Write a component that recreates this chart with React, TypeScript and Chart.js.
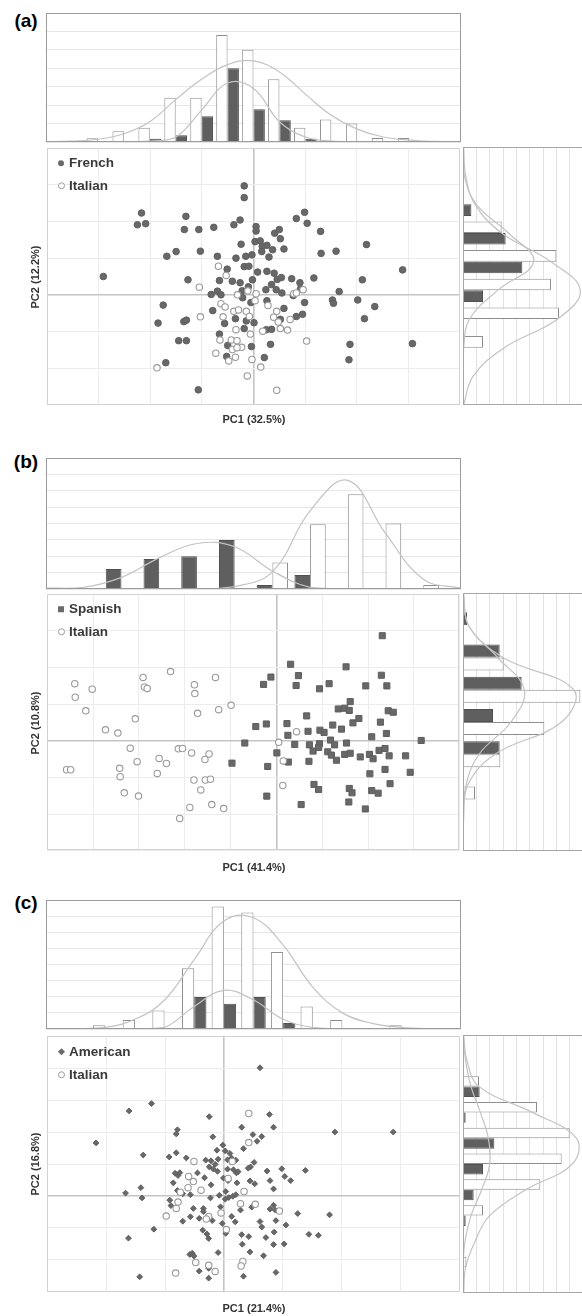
import React, { useEffect, useRef } from 'react';
import { Chart, registerables } from 'chart.js';
Chart.register(...registerables);

type Pt = [number, number];
const FONT = '"Liberation Sans", Arial, Helvetica, sans-serif';

// ---------- Panel (a): French vs Italian ----------
const frenchA: Pt[] = [[-0.18,2.97],[-0.18,2.65],[-2.17,2.23],[-2.25,1.91],[-2.09,1.94],[-1.31,2.14],[-1.34,1.78],[-1.06,1.78],[-0.77,1.84],[-0.38,1.91],[-0.26,2.04],[0.05,1.86],[0.05,1.74],[0.41,1.68],[0.5,1.78],[0.52,1.53],[0.83,2.08],[0.99,2.25],[1.04,1.95],[1.3,1.73],[-0.24,1.38],[0.03,1.45],[0.13,1.47],[0.17,1.32],[0.26,1.35],[0.37,1.23],[0.59,1.25],[0.16,1.18],[-1.68,1.05],[-1.5,1.18],[-1.03,1.19],[-0.7,1.05],[-0.34,1.0],[-0.15,1.05],[-0.03,1.09],[0.3,1.03],[1.31,1.13],[1.6,1.19],[2.19,1.37],[2.89,0.68],[-2.91,0.5],[-1.27,0.41],[-0.51,0.7],[-0.18,0.77],[-0.09,0.78],[0.08,0.62],[0.26,0.64],[0.4,0.59],[-0.66,0.39],[-0.41,0.37],[-0.26,0.33],[-0.02,0.41],[0.46,0.42],[0.54,0.47],[0.74,0.44],[0.9,0.33],[1.17,0.46],[0.35,0.28],[0.24,0.14],[0.44,0.14],[0.55,0.05],[0.77,-0.02],[0.91,0.16],[2.11,0.41],[1.66,0.09],[-0.82,0.01],[-0.7,0.1],[-0.63,0.0],[-0.22,0.11],[-0.1,0.22],[-0.21,-0.08],[-0.05,-0.21],[0.26,-0.16],[0.99,-0.21],[1.53,-0.14],[1.55,-0.23],[2.02,-0.14],[2.35,-0.32],[-1.75,-0.28],[-0.79,-0.43],[0.59,-0.37],[-1.85,-0.77],[-1.35,-0.73],[-1.3,-0.69],[-0.35,-0.65],[-0.14,-0.71],[0.01,-0.76],[0.52,-0.67],[0.83,-0.59],[0.95,-0.53],[2.15,-0.65],[-0.56,-0.78],[-0.18,-0.92],[0.25,-0.95],[0.35,-0.94],[-0.66,-1.07],[-1.45,-1.25],[-1.3,-1.25],[-0.5,-1.38],[-0.04,-1.41],[0.33,-1.35],[1.87,-1.35],[3.08,-1.33],[-1.7,-1.85],[-0.52,-1.68],[0.21,-1.71],[1.85,-1.77],[-1.07,-2.59]];
const italianA: Pt[] = [[-0.68,0.78],[-0.53,0.53],[-1.05,0.21],[-0.31,0.0],[-0.11,0.11],[0.05,0.03],[0.03,-0.16],[-0.63,-0.24],[-0.55,-0.33],[0.28,-0.29],[-0.38,-0.45],[-0.29,-0.41],[-0.14,-0.45],[-1.03,-0.6],[-0.59,-0.6],[-0.08,-0.59],[0.45,-0.45],[0.39,-0.61],[0.71,-0.67],[-0.34,-0.95],[-0.06,-1.07],[0.18,-0.99],[0.52,-0.92],[0.66,-0.96],[-0.65,-1.23],[-0.43,-1.23],[-0.32,-1.25],[-0.23,-1.43],[-0.41,-1.49],[1.03,-1.26],[-0.73,-1.59],[-0.35,-1.7],[-0.48,-1.8],[-0.03,-1.76],[0.14,-1.97],[-1.87,-1.99],[-0.12,-2.21],[0.45,-2.6],[0.78,0.03],[0.96,0.14],[0.83,0.05],[0.48,-0.74],[-0.32,-1.44]];
const topBinsA = ['-4','-3.5','-3','-2.5','-2','-1.5','-1','-0.5','0','0.5','1','1.5','2','2.5','3','3.5','4'];
const topWhiteA = [null,null,0.2,0.58,0.78,2.4,2.4,5.8,5.0,3.4,0.78,1.22,1.0,0.22,0.22,null,null];
const topDarkA = [null,null,null,null,0.18,0.36,1.4,4.0,1.78,1.18,0.18,null,null,null,null,null,null];
const topCurveWideA = [0,0.05,0.15,0.45,1.1,2.3,3.4,4.2,4.4,3.8,2.6,1.45,0.7,0.27,0.1,0.03,0];
const topCurveNarrowA = [0,0,0,0,0.05,0.27,1.73,3.2,2.9,1.1,0.27,0.05,0,0,0,0,0];
const sideBinsA = ['k0','k1','k2','k3','k4','k5','k6','k7','k8','k9'];
const sideWhiteA = [null,null,null,2.9,7.0,6.6,7.2,1.5,null,null];
const sideDarkA = [null,null,0.63,3.2,4.45,1.5,null,null,null,null];
const sideCurveWideA = [0.05,0.2,0.9,2.9,6.6,8.8,7.1,3.1,0.75,0.05];
const sideCurveNarrowA = [0,0.1,1.0,3.4,5.3,2.6,0.5,0.05,0,0];

// ---------- Panel (b): Spanish vs Italian ----------
const spanishB: Pt[] = [[2.31,2.87],[0.31,2.09],[1.52,2.02],[-0.12,1.74],[-0.28,1.54],[0.48,1.78],[0.43,1.51],[0.94,1.42],[1.15,1.56],[1.95,1.5],[2.29,1.79],[2.41,1.5],[1.61,1.07],[1.35,0.87],[1.49,0.89],[1.59,0.83],[1.8,0.61],[1.67,0.49],[2.44,0.82],[2.55,0.78],[0.66,0.68],[2.27,0.51],[-0.45,0.39],[-0.22,0.46],[0.23,0.47],[1.23,0.43],[1.42,0.32],[0.25,0.15],[0.69,0.26],[0.95,0.29],[1.04,0.23],[2.08,0.11],[2.4,0.2],[3.16,0.01],[-0.69,-0.06],[0.4,-0.1],[0.72,-0.11],[0.94,-0.08],[1.18,0.02],[1.27,-0.11],[1.53,-0.06],[0.01,-0.33],[0.8,-0.28],[0.92,-0.18],[1.12,-0.3],[1.2,-0.39],[1.31,-0.53],[1.49,-0.37],[1.61,-0.34],[1.83,-0.44],[2.03,-0.37],[2.11,-0.49],[2.24,-0.26],[2.37,-0.21],[2.46,-0.41],[2.82,-0.41],[-0.97,-0.61],[-0.19,-0.7],[0.26,-0.58],[0.71,-0.56],[2.04,-0.9],[2.37,-0.78],[2.92,-0.86],[0.82,-1.19],[0.92,-1.33],[1.59,-1.3],[1.65,-1.42],[2.08,-1.36],[2.22,-1.43],[2.48,-1.17],[-0.21,-1.51],[0.54,-1.74],[1.58,-1.67],[1.94,-1.86]];
const italianB: Pt[] = [[-4.4,1.56],[-4.39,1.19],[-4.02,1.41],[-4.16,0.82],[-2.91,1.73],[-2.88,1.47],[-2.82,1.43],[-2.31,1.89],[-1.79,1.53],[-1.78,1.29],[-1.33,1.73],[-3.08,0.6],[-1.72,0.75],[-1.26,0.85],[-0.99,0.97],[-3.73,0.3],[-3.46,0.21],[-3.19,-0.2],[-2.14,-0.22],[-2.05,-0.21],[-1.85,-0.33],[-1.47,-0.36],[-1.56,-0.51],[-4.58,-0.79],[-4.49,-0.79],[-3.42,-0.75],[-3.41,-0.98],[-3.04,-0.57],[-2.56,-0.48],[-2.4,-0.62],[-2.6,-0.89],[-1.8,-1.07],[-1.55,-1.07],[-1.44,-1.05],[-1.65,-1.34],[-3.32,-1.42],[-3.01,-1.51],[-1.89,-1.82],[-1.41,-1.74],[-1.15,-1.85],[-2.11,-2.12],[0.44,0.25],[0.05,-0.04],[0.15,-0.55],[0.14,-1.22]];
const topBinsB = ['b0','b1','b2','b3','b4','b5','b6','b7','b8','b9','b10','b11'];
const topDarkB = [null,null,1.22,1.83,2.0,3.0,0.24,0.85,null,null,null,null];
const topWhiteB = [null,null,null,null,null,null,1.62,3.96,5.78,4.0,0.24,null];
const topCurveLeftB = [0.05,0.1,0.71,1.9,2.78,2.58,1.1,0.1,0,0,0,0];
const topCurveRightB = [0,0,0,0,0,0.15,1.05,4.77,6.63,3.39,0.6,0.05];
const sideBinsB = ['k0','k1','k2','k3','k4','k5','k6','k7','k8'];
const sideDarkB = [null,0.3,2.75,4.4,2.25,2.75,null,null,null];
const sideWhiteB = [null,null,3.05,8.8,6.1,2.8,0.9,null,null];
const sideCurveWideB = [0.05,0.4,3.0,8.3,7.4,2.4,0.3,0.05,0];
const sideCurveNarrowB = [0,0.4,2.6,4.6,3.6,1.2,0.2,0,0];

// ---------- Panel (c): American vs Italian ----------
const americanC: Pt[] = [[0.61,4.01],[-1.23,2.89],[-1.61,2.66],[-0.25,2.48],[0.77,2.55],[0.84,2.15],[0.3,2.15],[-0.79,2.07],[-0.81,1.94],[1.88,2.0],[2.87,2.0],[-2.17,1.66],[-0.19,1.85],[0.49,1.92],[0.64,1.86],[0.56,1.71],[-1.37,1.28],[-0.93,1.22],[-0.81,1.35],[-0.64,1.19],[-0.02,1.59],[0.02,1.41],[-0.12,1.43],[0.1,1.33],[0.33,1.48],[-0.31,1.12],[-0.22,1.1],[-0.1,1.15],[-0.15,0.99],[-0.25,0.91],[-0.18,0.84],[-0.11,0.77],[0.06,1.13],[0.13,1.18],[0.06,0.84],[0.16,0.82],[0.21,0.72],[0.51,1.05],[0.45,0.91],[0.41,0.87],[0.73,0.78],[0.98,0.85],[1.38,0.8],[-0.83,0.71],[-0.78,0.64],[-0.75,0.73],[-0.45,0.72],[-0.33,0.57],[-0.86,0.41],[-0.22,0.35],[-0.01,0.56],[0.07,0.48],[0.22,0.41],[0.44,0.47],[0.52,0.38],[0.78,0.48],[0.84,0.22],[1.03,0.61],[1.13,0.48],[-1.41,0.26],[-1.67,0.09],[-1.39,-0.06],[-0.79,0.17],[-0.7,0.07],[-0.57,0.04],[0.03,0.14],[-0.08,0.02],[-0.23,-0.06],[0.02,-0.1],[0.08,-0.05],[0.15,-0.01],[0.2,0.04],[-0.06,-0.34],[-0.92,-0.13],[-0.9,-0.3],[-0.52,-0.39],[-0.35,-0.39],[-0.35,-0.49],[0.28,-0.44],[0.47,-0.35],[0.84,-0.29],[0.87,-0.44],[0.78,-0.41],[1.25,-0.55],[1.79,-0.59],[-0.57,-0.65],[-0.42,-0.7],[-0.7,-0.79],[-0.2,-0.77],[0.13,-0.64],[0.19,-0.81],[-0.03,-0.86],[0.61,-0.8],[0.64,-0.97],[0.88,-0.77],[1.05,-0.91],[-1.19,-1.04],[-0.36,-1.07],[-0.29,-1.19],[-0.26,-1.33],[0.03,-1.17],[0.3,-1.21],[0.42,-1.27],[0.71,-1.3],[0.85,-1.13],[1.44,-1.2],[1.6,-1.23],[-1.62,-1.32],[0.31,-1.51],[0.84,-1.52],[1.02,-1.5],[-0.1,-1.77],[0.44,-1.75],[0.67,-1.87],[-0.58,-1.83],[-0.54,-1.79],[-0.51,-1.88],[-0.42,-2.35],[-0.26,-2.26],[-1.43,-2.53],[-0.26,-2.57],[0.33,-2.51],[0.88,-2.39],[0.2,1.12],[0.24,0.76]];
const italianC: Pt[] = [[0.42,2.58],[0.42,1.67],[-0.51,1.08],[0.14,1.08],[-0.6,0.61],[-0.52,0.45],[0.07,0.55],[-0.61,0.26],[-0.74,0.12],[-0.39,0.18],[0.34,0.14],[-0.78,-0.19],[-0.81,-0.39],[0.28,-0.24],[0.53,-0.26],[0.94,-0.47],[-0.98,-0.63],[-0.26,-0.64],[-0.05,-0.53],[0.04,-1.05],[-0.48,-2.08],[-0.26,-2.17],[-0.15,-2.36],[0.32,-2.05],[0.29,-2.19],[-0.82,-2.41],[-0.3,-0.72]];
const topBinsC = ['-3','-2.5','-2','-1.5','-1','-0.5','0','0.5','1','1.5','2','2.5','3','3.5','4'];
const topWhiteC = [null,null,0.23,0.56,1.15,3.77,7.59,7.22,4.78,1.4,0.56,null,0.23,null,null];
const topDarkC = [null,null,null,null,null,1.98,1.57,1.98,0.37,null,null,null,null,null,null];
const topCurveWideC = [0,0.02,0.1,0.6,1.8,4.3,6.7,6.9,5.2,2.6,1.0,0.35,0.1,0.02,0];
const topCurveNarrowC = [0,0,0,0,0.1,1.4,2.4,1.8,0.6,0.1,0,0,0,0,0];
const sideBinsC = ['k0','k1','k2','k3','k4','k5','k6','k7','k8','k9','k10'];
const sideWhiteC = [null,null,1.2,5.55,8.0,7.4,5.8,1.5,null,0.25,null];
const sideDarkC = [null,null,1.25,0.2,2.35,1.5,0.8,0.2,null,null,null];
const sideCurveWideC = [0.05,0.3,1.2,5.2,8.5,8.2,4.7,2.0,0.9,0.2,0.05];
const sideCurveNarrowC = [0,0.2,0.6,1.3,1.9,2.0,1.4,0.6,0.15,0,0];

// ---------- styling helpers ----------
const PAD = 4;
const WHITE_BAR = { backgroundColor: '#ffffff', borderColor: '#8e8e8e', borderWidth: 1 };
const DARK_BAR = { backgroundColor: '#5f5f5f', borderColor: '#505050', borderWidth: 1 };
const CURVE = { borderColor: '#c3c3c3', borderWidth: 1.2, pointRadius: 0, tension: 0.4, fill: false };

const framePlugin = {
  id: 'frame',
  afterDatasetsDraw(chart: any, _a: any, opts: any) {
    const { ctx, chartArea } = chart;
    ctx.save();
    ctx.strokeStyle = opts.color || '#999';
    ctx.lineWidth = 1;
    ctx.strokeRect(Math.round(chartArea.left) + 0.5, Math.round(chartArea.top) + 0.5,
      Math.round(chartArea.right - chartArea.left) - 1, Math.round(chartArea.bottom - chartArea.top) - 1);
    ctx.restore();
  },
};

function baseOptions(frameColor: string) {
  return {
    responsive: false,
    animation: false,
    devicePixelRatio: 1,
    events: [],
    layout: { padding: PAD },
    plugins: { legend: { display: false }, tooltip: { enabled: false }, frame: { color: frameColor } },
  };
}

const hidden = { display: false };
const noGrid = { display: false, drawTicks: false };

function scatterConfig(dark: Pt[], open: Pt[], darkStyle: string, darkRadius: number,
  xMin: number, xMax: number, yMin: number, yMax: number) {
  const gridColor = (c: any) => (c.tick && c.tick.value === 0 ? '#c4c4c4' : '#ececec');
  const gridWidth = (c: any) => (c.tick && c.tick.value === 0 ? 1.6 : 1);
  return {
    type: 'scatter',
    data: {
      datasets: [
        { data: open.map(([x, y]) => ({ x, y })), pointStyle: 'circle', pointRadius: 3.2,
          pointBackgroundColor: '#ffffff', pointBorderColor: '#9a9a9a', pointBorderWidth: 1.1, order: 1 },
        { data: dark.map(([x, y]) => ({ x, y })), pointStyle: darkStyle, pointRadius: darkRadius,
          pointBackgroundColor: '#686868', pointBorderColor: '#5e5e5e', pointBorderWidth: 1, order: 2 },
      ],
    },
    options: {
      ...baseOptions('#d2d2d2'),
      scales: {
        x: { type: 'linear', min: xMin, max: xMax, ticks: { display: false, stepSize: 1 },
          grid: { drawTicks: false, color: gridColor, lineWidth: gridWidth }, border: hidden },
        y: { type: 'linear', min: yMin, max: yMax, ticks: { display: false, stepSize: 1 },
          grid: { drawTicks: false, color: gridColor, lineWidth: gridWidth }, border: hidden },
      },
    },
    plugins: [framePlugin],
  };
}

function topHistConfig(labels: string[], first: any[], firstStyle: any, second: any[], secondStyle: any,
  c1: number[], c2: number[], yMax: number, catPct: number) {
  return {
    type: 'bar',
    data: {
      labels,
      datasets: [
        { type: 'line', data: c1, ...CURVE, order: 1 },
        { type: 'line', data: c2, ...CURVE, order: 1 },
        { type: 'bar', data: first, ...firstStyle, order: 2, categoryPercentage: catPct, barPercentage: 1 },
        { type: 'bar', data: second, ...secondStyle, order: 2, categoryPercentage: catPct, barPercentage: 1 },
      ],
    },
    options: {
      ...baseOptions('#9c9c9c'),
      scales: {
        x: { type: 'category', offset: false, ticks: { display: false }, grid: noGrid, border: hidden },
        y: { type: 'linear', min: 0, max: yMax, ticks: { display: false, stepSize: 1 },
          grid: { drawTicks: false, color: '#e6e6e6' }, border: hidden },
      },
    },
    plugins: [framePlugin],
  };
}

function sideHistConfig(labels: string[], first: any[], firstStyle: any, second: any[], secondStyle: any,
  c1: number[], c2: number[], catPct: number) {
  return {
    type: 'bar',
    data: {
      labels,
      datasets: [
        { type: 'line', indexAxis: 'y', data: c1, ...CURVE, order: 1 },
        { type: 'line', indexAxis: 'y', data: c2, ...CURVE, order: 1 },
        { type: 'bar', data: first, ...firstStyle, order: 2, categoryPercentage: catPct, barPercentage: 1 },
        { type: 'bar', data: second, ...secondStyle, order: 2, categoryPercentage: catPct, barPercentage: 1 },
      ],
    },
    options: {
      ...baseOptions('#a6a6a6'),
      indexAxis: 'y',
      scales: {
        y: { type: 'category', offset: false, ticks: { display: false }, grid: noGrid, border: hidden },
        x: { type: 'linear', min: 0, max: 9, ticks: { display: false, stepSize: 1 },
          grid: { drawTicks: false, color: '#e2e2e2' }, border: hidden },
      },
    },
    plugins: [framePlugin],
  };
}

function ChartBox({ x, y, w, h, make }: { x: number; y: number; w: number; h: number; make: () => any }) {
  const ref = useRef<HTMLCanvasElement>(null);
  useEffect(() => {
    const chart = new Chart(ref.current as HTMLCanvasElement, make());
    return () => chart.destroy();
  }, []);
  const W = w + 2 * PAD;
  const H = h + 2 * PAD;
  return (
    <div style={{ position: 'absolute', left: x - PAD, top: y - PAD, width: W, height: H }}>
      <canvas ref={ref} width={W} height={H} style={{ width: W, height: H, display: 'block' }} />
    </div>
  );
}

function Txt({ x, y, size, children, rotate, color }: any) {
  return (
    <div style={{
      position: 'absolute', left: x, top: y, transform: `translate(-50%, -50%)${rotate ? ' rotate(-90deg)' : ''}`,
      fontFamily: FONT, fontWeight: 700, fontSize: size, color: color || '#000', whiteSpace: 'nowrap', lineHeight: 1,
    }}>{children}</div>
  );
}

function Marker({ kind }: { kind: string }) {
  const common: any = { display: 'inline-block', boxSizing: 'border-box' };
  if (kind === 'dot') return <span style={{ ...common, width: 6, height: 6, borderRadius: '50%', background: '#6a6a6a' }} />;
  if (kind === 'open') return <span style={{ ...common, width: 7, height: 7, borderRadius: '50%', border: '1.2px solid #9a9a9a', background: '#fff' }} />;
  if (kind === 'square') return <span style={{ ...common, width: 6, height: 6, background: '#6a6a6a' }} />;
  return <span style={{ ...common, width: 5, height: 5, background: '#6a6a6a', transform: 'rotate(45deg)' }} />;
}

function LegendItem({ x, y, kind, label }: { x: number; y: number; kind: string; label: string }) {
  return (
    <div style={{ position: 'absolute', left: x, top: y, transform: 'translateY(-50%)', display: 'flex', alignItems: 'center',
      fontFamily: FONT, fontWeight: 700, fontSize: 13.5, color: '#3a3a3a', lineHeight: 1, whiteSpace: 'nowrap' }}>
      <span style={{ width: 8, display: 'inline-flex', justifyContent: 'center', marginRight: 4 }}><Marker kind={kind} /></span>
      {label}
    </div>
  );
}

export default function App() {
  return (
    <div style={{ position: 'absolute', left: 0, top: 0, width: 582, height: 1316, overflow: 'hidden', background: '#fff' }}>
      {/* ---- (a) ---- */}
      <Txt x={26} y={20} size={19}>(a)</Txt>
      <ChartBox x={46} y={13} w={415} h={129}
        make={() => topHistConfig(topBinsA, topWhiteA, WHITE_BAR, topDarkA, DARK_BAR, topCurveWideA, topCurveNarrowA, 7, 0.875)} />
      <ChartBox x={46} y={147} w={415} h={259}
        make={() => scatterConfig(frenchA, italianA, 'circle', 3.3, -4, 4, -3, 4)} />
      <ChartBox x={463} y={147} w={120} h={258}
        make={() => sideHistConfig(sideBinsA, sideWhiteA, WHITE_BAR, sideDarkA, DARK_BAR, sideCurveWideA, sideCurveNarrowA, 0.81)} />
      <LegendItem x={57} y={163} kind="dot" label="French" />
      <LegendItem x={57} y={186} kind="open" label="Italian" />
      <Txt x={254} y={418.5} size={11} color="#333">PC1 (32.5%)</Txt>
      <Txt x={35} y={276.5} size={11} color="#333" rotate>PC2 (12.2%)</Txt>

      {/* ---- (b) ---- */}
      <Txt x={26} y={461} size={19}>(b)</Txt>
      <ChartBox x={46} y={458} w={415} h={131}
        make={() => topHistConfig(topBinsB, topDarkB, DARK_BAR, topWhiteB, WHITE_BAR, topCurveLeftB, topCurveRightB, 8, 0.83)} />
      <ChartBox x={46} y={593} w={415} h={259}
        make={() => scatterConfig(spanishB, italianB, 'rect', 4.3, -5, 4, -3, 4)} />
      <ChartBox x={463} y={593} w={120} h={258}
        make={() => sideHistConfig(sideBinsB, sideDarkB, DARK_BAR, sideWhiteB, WHITE_BAR, sideCurveWideB, sideCurveNarrowB, 0.8)} />
      <LegendItem x={57} y={609} kind="square" label="Spanish" />
      <LegendItem x={57} y={632} kind="open" label="Italian" />
      <Txt x={254} y={866.5} size={11} color="#333">PC1 (41.4%)</Txt>
      <Txt x={35} y={722.5} size={11} color="#333" rotate>PC2 (10.8%)</Txt>

      {/* ---- (c) ---- */}
      <Txt x={26} y={902} size={19}>(c)</Txt>
      <ChartBox x={46} y={900} w={415} h={129}
        make={() => topHistConfig(topBinsC, topWhiteC, WHITE_BAR, topDarkC, DARK_BAR, topCurveWideC, topCurveNarrowC, 8, 0.825)} />
      <ChartBox x={46} y={1035} w={415} h={258}
        make={() => scatterConfig(americanC, italianC, 'rectRot', 2.9, -3, 4, -3, 5)} />
      <ChartBox x={463} y={1035} w={120} h={258}
        make={() => sideHistConfig(sideBinsC, sideWhiteC, WHITE_BAR, sideDarkC, DARK_BAR, sideCurveWideC, sideCurveNarrowC, 0.81)} />
      <LegendItem x={57} y={1052} kind="diamond" label="American" />
      <LegendItem x={57} y={1075} kind="open" label="Italian" />
      <Txt x={254} y={1307.5} size={11} color="#333">PC1 (21.4%)</Txt>
      <Txt x={35} y={1164} size={11} color="#333" rotate>PC2 (16.8%)</Txt>
    </div>
  );
}
